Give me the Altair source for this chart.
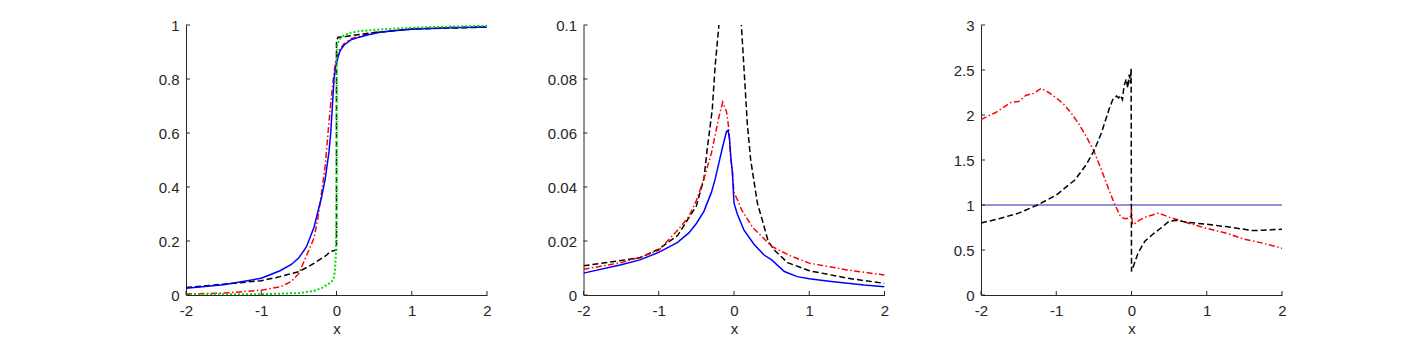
import altair as alt
import pandas as pd

# ---------------- Panel 1 (distribution functions) ----------------
p1_blue_x = [-2, -1.5, -1, -0.75, -0.6, -0.5, -0.4, -0.3, -0.2, -0.15, -0.1, -0.077, -0.05, -0.033, -0.013, 0,
             0.03, 0.053, 0.1, 0.185, 0.3, 0.41, 0.58, 0.8, 1, 1.5, 2]
p1_blue_y = [0.025, 0.038, 0.062, 0.09, 0.113, 0.138, 0.178, 0.25, 0.36, 0.43, 0.53, 0.6, 0.72, 0.8, 0.84, 0.86,
             0.89, 0.907, 0.925, 0.944, 0.955, 0.963, 0.973, 0.98, 0.984, 0.99, 0.993]

p1_red_x = [-2, -1.5, -1, -0.75, -0.6, -0.5, -0.4, -0.3, -0.25, -0.188, -0.15, -0.113, -0.08, -0.042, -0.02, 0,
            0.03, 0.1, 0.2, 0.5, 1, 2]
p1_red_y = [0.004, 0.007, 0.018, 0.03, 0.05, 0.08, 0.145, 0.21, 0.28, 0.4, 0.48, 0.6, 0.7, 0.8, 0.85, 0.88,
            0.905, 0.93, 0.95, 0.972, 0.986, 0.995]

p1_black_x = [-2, -1.5, -1, -0.75, -0.5, -0.3, -0.13, -0.09, 0, 0.0, 0.02, 0.12, 0.3, 0.5, 1, 2]
p1_black_y = [0.028, 0.04, 0.053, 0.068, 0.086, 0.117, 0.148, 0.16, 0.167, 0.94, 0.955, 0.957, 0.965, 0.972, 0.985, 0.992]

p1_green_x = [-2, -1, -0.5, -0.3, -0.2, -0.13, -0.077, -0.04, -0.02, -0.008, 0, 0.003, 0.01, 0.05, 0.1, 0.2,
              0.3, 0.6, 1, 1.5, 2]
p1_green_y = [0.002, 0.003, 0.007, 0.015, 0.025, 0.037, 0.045, 0.06, 0.09, 0.15, 0.3, 0.9, 0.93, 0.95, 0.963,
              0.972, 0.977, 0.984, 0.99, 0.994, 0.997]

# ---------------- Panel 2 (densities) ----------------
p2_blue_x = [-2, -1.5, -1.25, -1, -0.75, -0.6, -0.5, -0.4, -0.3, -0.25, -0.2, -0.15, -0.1, -0.08, -0.06, -0.04,
             -0.022, 0, 0.044, 0.133, 0.27, 0.4, 0.5, 0.67, 0.84, 1, 1.29, 1.73, 2]
p2_blue_y = [0.0081, 0.0112, 0.013, 0.0158, 0.0195, 0.023, 0.0265, 0.031, 0.038, 0.043, 0.049, 0.055, 0.0605,
             0.061, 0.058, 0.05, 0.046, 0.034, 0.030, 0.024, 0.0186, 0.0148, 0.013, 0.0087, 0.0068, 0.006,
             0.005, 0.0037, 0.0031]

p2_red_x = [-2, -1.5, -1.25, -1, -0.75, -0.6, -0.5, -0.4, -0.3, -0.2, -0.15, -0.1, -0.07, -0.044, -0.02, 0,
            0.05, 0.1, 0.25, 0.5, 0.75, 1, 1.5, 2]
p2_red_y = [0.0095, 0.012, 0.014, 0.0165, 0.024, 0.029, 0.035, 0.043, 0.0526, 0.066, 0.0714, 0.068, 0.062,
            0.051, 0.045, 0.038, 0.035, 0.0316, 0.025, 0.018, 0.0145, 0.0118, 0.0093, 0.0074]

p2_black_x = [-2, -1.5, -1.25, -1, -0.75, -0.5, -0.4, -0.356, -0.289, -0.25, -0.2, -0.1, 0, 0.098, 0.178, 0.222,
              0.311, 0.4, 0.453, 0.533, 0.711, 1, 1.51, 2]
p2_black_y = [0.0108, 0.0128, 0.0138, 0.017, 0.022, 0.033, 0.043, 0.054, 0.0687, 0.085, 0.1, 0.14, 0.16, 0.1,
              0.063, 0.05, 0.034, 0.0254, 0.020, 0.0167, 0.012, 0.009, 0.0062, 0.0043]

# ---------------- Panel 3 (ratios) ----------------
p3_ref_x = [-2, 2]
p3_ref_y = [1, 1]

p3_red_x = [-2, -1.8, -1.6, -1.5, -1.4, -1.3, -1.2, -1.1, -1, -0.9, -0.8, -0.7, -0.6, -0.5, -0.4, -0.3, -0.22,
            -0.15, -0.1, -0.04, -0.01, 0, 0.01, 0.025, 0.1, 0.2, 0.36, 0.5, 0.75, 1, 1.25, 1.5, 1.75, 2]
p3_red_y = [1.95, 2.03, 2.14, 2.15, 2.22, 2.24, 2.295, 2.25, 2.19, 2.12, 2.02, 1.9, 1.76, 1.6, 1.39, 1.17, 1.0,
            0.88, 0.85, 0.85, 0.88, 0.95, 0.8, 0.78, 0.83, 0.87, 0.91, 0.865, 0.8, 0.74, 0.69, 0.62, 0.575, 0.52]

p3_black_x = [-2, -1.75, -1.5, -1.25, -1, -0.75, -0.6, -0.5, -0.4, -0.3, -0.25, -0.2, -0.17, -0.15, -0.12, -0.1,
              -0.07, -0.05, -0.03, -0.015, -0.005, 0, 0.03, 0.08, 0.11, 0.18, 0.29, 0.4, 0.5, 0.6, 0.75, 1,
              1.25, 1.5, 1.6, 1.75, 2]
p3_black_y = [0.8, 0.85, 0.91, 1.0, 1.11, 1.28, 1.45, 1.6, 1.8, 2.06, 2.17, 2.21, 2.19, 2.22, 2.17, 2.32,
              2.4, 2.3, 2.45, 2.35, 2.52, 0.26, 0.33, 0.45, 0.5, 0.6, 0.68, 0.75, 0.82, 0.83, 0.806, 0.787,
              0.76, 0.73, 0.716, 0.72, 0.73]

x_ticks = [-2, -1, 0, 1, 2]
p1_y_ticks = [0, 0.2, 0.4, 0.6, 0.8, 1]
p2_y_ticks = [0, 0.02, 0.04, 0.06, 0.08, 0.1]
p3_y_ticks = [0, 0.5, 1, 1.5, 2, 2.5, 3]

FONT = "Liberation Sans"
AX = "#262626"
W, H = 301, 270
TICK = 4
LABEL_SIZE = 15
TITLE_SIZE = 15


def make_panel(series, ydom, yticks):
    xs = alt.Scale(domain=[-2, 2], nice=False, zero=False)
    ys = alt.Scale(domain=ydom, nice=False, zero=False)
    xaxis = alt.Axis(values=x_ticks, labelExpr="'' + datum.value", title="x", ticks=False, tickSize=0,
                     grid=False, domainColor=AX, domainWidth=1, labelColor=AX, labelFont=FONT,
                     labelFontSize=LABEL_SIZE, labelPadding=8, labelFlush=False, labelOverlap=False,
                     titleFont=FONT, titleFontSize=TITLE_SIZE, titleFontWeight="normal", titleColor=AX,
                     titlePadding=3)
    yaxis = alt.Axis(values=yticks, labelExpr="'' + datum.value", title=None, ticks=False, tickSize=0,
                     grid=False, domainColor=AX, domainWidth=1, labelColor=AX, labelFont=FONT,
                     labelFontSize=LABEL_SIZE, labelPadding=7, labelFlush=False, labelOverlap=False)
    X = alt.X("x:Q", scale=xs, axis=xaxis)
    Y = alt.Y("y:Q", scale=ys, axis=yaxis)
    layers = []
    for (xv, yv, color, dash, width) in series:
        df = pd.DataFrame({"x": xv, "y": yv})
        kw = dict(color=color, strokeWidth=width, clip=True)
        if dash:
            kw["strokeDash"] = dash
        layers.append(alt.Chart(df).mark_line(**kw).encode(
            x=X, y=Y, order=alt.Order("i:Q")).transform_window(i="row_number()"))
    xt = pd.DataFrame({"x": x_ticks})
    yt = pd.DataFrame({"y": yticks})
    layers.append(alt.Chart(xt).mark_rule(color=AX, strokeWidth=1).encode(
        x=X, y=alt.value(H), y2=alt.value(H - TICK)))
    layers.append(alt.Chart(yt).mark_rule(color=AX, strokeWidth=1).encode(
        y=Y, x=alt.value(0), x2=alt.value(TICK)))
    return alt.layer(*layers).properties(width=W, height=H)


BLUE = "#0000ff"
RED = "#ff0000"
BLACK = "#000000"
GREEN = "#00dd00"
DASH = [6, 3]
DASHDOT = [6, 2.5, 1.5, 2.5]
DOT = [2, 2]

p1 = make_panel([
    (p1_red_x, p1_red_y, RED, DASHDOT, 1.5),
    (p1_black_x, p1_black_y, BLACK, DASH, 1.5),
    (p1_blue_x, p1_blue_y, BLUE, None, 1.5),
    (p1_green_x, p1_green_y, GREEN, DOT, 2),
], [0, 1], p1_y_ticks)

p2 = make_panel([
    (p2_black_x, p2_black_y, BLACK, DASH, 1.5),
    (p2_red_x, p2_red_y, RED, DASHDOT, 1.5),
    (p2_blue_x, p2_blue_y, BLUE, None, 1.5),
], [0, 0.1], p2_y_ticks)

p3 = make_panel([
    (p3_ref_x, p3_ref_y, "#2424c4", None, 1),
    (p3_red_x, p3_red_y, RED, DASHDOT, 1.5),
    (p3_black_x, p3_black_y, BLACK, DASH, 1.5),
], [0, 3], p3_y_ticks)

chart = alt.hconcat(p1, p2, p3, spacing=96.5, bounds="flush").properties(
    padding={"left": 150, "top": 10, "right": 5, "bottom": 5}
).configure_view(stroke=None)

chart.save("out.html", embed_options={"renderer": "svg", "actions": False})
